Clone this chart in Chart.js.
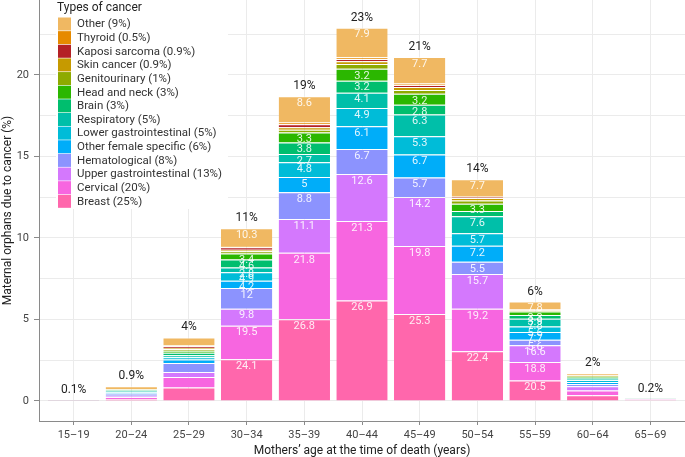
<!DOCTYPE html>
<html>
<head>
<meta charset="utf-8">
<script src="https://cdn.jsdelivr.net/npm/chart.js@4.4.1/dist/chart.umd.min.js"></script>
<style>
    html, body { margin: 0; padding: 0; background: #fff; }
    #wrap { width: 685px; height: 457px; }
</style>
</head>
<body>
<div id="wrap"><canvas id="CancerChart"></canvas></div>
<script>
// age groups of the mothers (x axis)
var ageGroups = ["15–19", "20–24", "25–29", "30–34", "35–39", "40–44", "45–49", "50–54", "55–59", "60–64", "65–69"];
// height of each bar = % of all maternal orphans due to cancer
var barTotals = [0.06, 0.9, 3.9, 10.6, 18.7, 22.9, 21.1, 13.6, 6.1, 1.7, 0.15];
var barLabels = ["0.1%", "0.9%", "4%", "11%", "19%", "23%", "21%", "14%", "6%", "2%", "0.2%"];
var yTickLabels = [0, 5, 10, 15, 20];

// share (%) of each cancer type inside an age group, bottom of the stack first
var breast        = [30, 14, 21, 24.1, 26.8, 26.9, 25.3, 22.4, 20.5, 21, 40];
var cervical      = [25, 12, 16.5, 19.5, 21.8, 21.3, 19.8, 19.2, 18.8, 17, 30];
var upperGI       = [10, 10, 8, 9.8, 11.1, 12.6, 14.2, 15.7, 16.6, 15, 10];
var hematological = [10, 15, 14, 12, 8.8, 6.7, 5.7, 5.5, 5.6, 8, 5];
var otherFemale   = [5, 7, 5.5, 4.2, 5, 6.1, 6.7, 7.2, 7.7, 8, 5];
var lowerGI       = [5, 4, 3.5, 4.9, 4.8, 4.9, 5.3, 5.7, 5.6, 6, 2];
var respiratory   = [3, 5, 3, 2.8, 2.7, 4.1, 6.3, 7.6, 7.8, 5, 2];
var brain         = [5, 7, 4, 4.6, 3.8, 3.2, 2.8, 2.4, 3.9, 4, 2];
var headNeck      = [2, 3, 3, 3.4, 3.3, 3.2, 3.2, 3.3, 3.3, 3, 1];
var genitourinary = [1, 2, 3, 1.3, 0.9, 1.3, 1.1, 1.4, 1.0, 2, 1];
var skinCancer    = [0, 1, 1.5, 1.0, 0.8, 0.7, 0.9, 1.2, 0.6, 2, 0];
var kaposi        = [0, 1, 2.5, 1.4, 1.0, 0.6, 0.5, 0.3, 0.3, 1, 0];
var thyroid       = [2, 1, 1.5, 0.7, 0.6, 0.5, 0.5, 0.4, 0.4, 1, 0];
var otherCancer   = [2, 18, 12.5, 10.3, 8.6, 7.9, 7.7, 7.7, 7.8, 7, 2];

var cancerTypes = [
    ["Breast (25%)", breast, "#FF67AC"],
    ["Cervical (20%)", cervical, "#F766E0"],
    ["Upper gastrointestinal (13%)", upperGI, "#D478FD"],
    ["Hematological (8%)", hematological, "#8C93FE"],
    ["Other female specific (6%)", otherFemale, "#00ADF9"],
    ["Lower gastrointestinal (5%)", lowerGI, "#00BCD8"],
    ["Respiratory (5%)", respiratory, "#00BFA9"],
    ["Brain (3%)", brain, "#00BE6E"],
    ["Head and neck (3%)", headNeck, "#2BB700"],
    ["Genitourinary (1%)", genitourinary, "#8EAA00"],
    ["Skin cancer (0.9%)", skinCancer, "#C69A00"],
    ["Kaposi sarcoma (0.9%)", kaposi, "#B42126"],
    ["Thyroid (0.5%)", thyroid, "#E68A00"],
    ["Other (9%)", otherCancer, "#F0B862"]
];

var colSums = ageGroups.map(function (g, i) {
    var s = 0;
    cancerTypes.forEach(function (c) { s += c[1][i]; });
    return s;
});

var datasets = cancerTypes.map(function (c) {
    return {
        label: c[0],
        shares: c[1],
        data: c[1].map(function (v, i) { return { x: i, y: barTotals[i] * v / colSums[i] }; }),
        backgroundColor: c[2],
        borderColor: "rgba(255,255,255,0.6)",
        borderWidth: { top: 1, bottom: 0, left: 0, right: 0 },
        borderSkipped: false,
        categoryPercentage: 1,
        barPercentage: 0.89
    };
});

var FONT = "Roboto";

// numbers written inside the segments and on top of the bars
var barText = {
    id: "barText",
    afterDatasetsDraw: function (chart) {
        var ctx = chart.ctx;
        ctx.save();
        ctx.textAlign = "center";
        ctx.textBaseline = "middle";
        ctx.font = "11px " + FONT;
        ctx.fillStyle = "rgba(255,255,255,0.88)";
        chart.data.datasets.forEach(function (ds, d) {
            var meta = chart.getDatasetMeta(d);
            meta.data.forEach(function (el, i) {
                if (barTotals[i] >= 5 && ds.shares[i] >= 2.5) {
                    ctx.fillText(String(ds.shares[i]), el.x, el.y + 7);
                }
            });
        });
        ctx.font = "12px " + FONT;
        ctx.fillStyle = "#222";
        var xs = chart.scales.x, ys = chart.scales.y;
        barTotals.forEach(function (t, i) {
            ctx.fillText(barLabels[i], xs.getPixelForValue(i), ys.getPixelForValue(t) - 10);
        });
        ctx.restore();
    }
};

// legend in the top left corner of the plot
var cancerLegend = {
    id: "cancerLegend",
    beforeDatasetsDraw: function (chart) {
        var ctx = chart.ctx;
        ctx.save();
        ctx.fillStyle = "#fff";
        ctx.fillRect(56, 0, 172, 209);
        ctx.textAlign = "left";
        ctx.textBaseline = "middle";
        ctx.fillStyle = "#222";
        ctx.font = "12px " + FONT;
        ctx.fillText("Types of cancer", 57, 7.5);
        ctx.font = "11.5px " + FONT;
        var n = cancerTypes.length;
        for (var k = 0; k < n; k++) {
            var c = cancerTypes[n - 1 - k];
            var cy = 24 + k * 13.64;
            ctx.fillStyle = c[2];
            ctx.fillRect(58, cy - 6.5, 13, 13);
            ctx.fillStyle = "#333";
            ctx.fillText(c[0], 77, cy + 0.5);
        }
        ctx.restore();
    }
};

var CancerChart = new Chart(document.getElementById("CancerChart"), {
    type: "bar",
    data: { datasets: datasets },
    plugins: [cancerLegend, barText],
    options: {
        responsive: true,
        maintainAspectRatio: false,
        animation: false,
        layout: { padding: 0 },
        plugins: { legend: { display: false }, tooltip: { enabled: false } },
        scales: {
            x: {
                type: "linear",
                stacked: true,
                offset: false,
                min: -0.6,
                max: 10.6,
                grid: { offset: false, color: "#ebebeb", tickColor: "#8a8a8a", tickLength: 4 },
                border: { color: "#8a8a8a", width: 1 },
                ticks: {
                    stepSize: 1,
                    includeBounds: false,
                    autoSkip: false,
                    maxRotation: 0,
                    padding: 4,
                    color: "#444",
                    font: { family: FONT, size: 11 },
                    callback: function (v) { return ageGroups[v] || ""; }
                },
                title: {
                    display: true,
                    text: "Mothers’ age at the time of death (years)",
                    color: "#222",
                    font: { family: FONT, size: 12, lineHeight: 1 },
                    padding: { top: 0, bottom: 0 }
                },
                afterFit: function (s) { s.height = 36; s.paddingLeft = 0; s.paddingRight = 0; }
            },
            y: {
                stacked: true,
                min: -1.227,
                max: 24.6,
                grid: {
                    color: "#ebebeb",
                    tickLength: 5,
                    tickColor: function (c) {
                        return yTickLabels.indexOf(c.tick.value) >= 0 ? "#8a8a8a" : "rgba(0,0,0,0)";
                    }
                },
                border: { color: "#8a8a8a", width: 1 },
                ticks: {
                    stepSize: 2.5,
                    includeBounds: false,
                    padding: 5,
                    color: "#444",
                    font: { family: FONT, size: 11 },
                    callback: function (v) { return yTickLabels.indexOf(v) >= 0 ? String(v) : ""; }
                },
                title: {
                    display: true,
                    text: "Maternal orphans due to cancer (%)",
                    color: "#222",
                    font: { family: FONT, size: 12, lineHeight: 1 },
                    padding: { top: 2, bottom: 0 }
                },
                afterFit: function (s) { s.width = 39; s.paddingTop = 0; s.paddingBottom = 0; }
            }
        }
    }
});
</script>
</body>
</html>
